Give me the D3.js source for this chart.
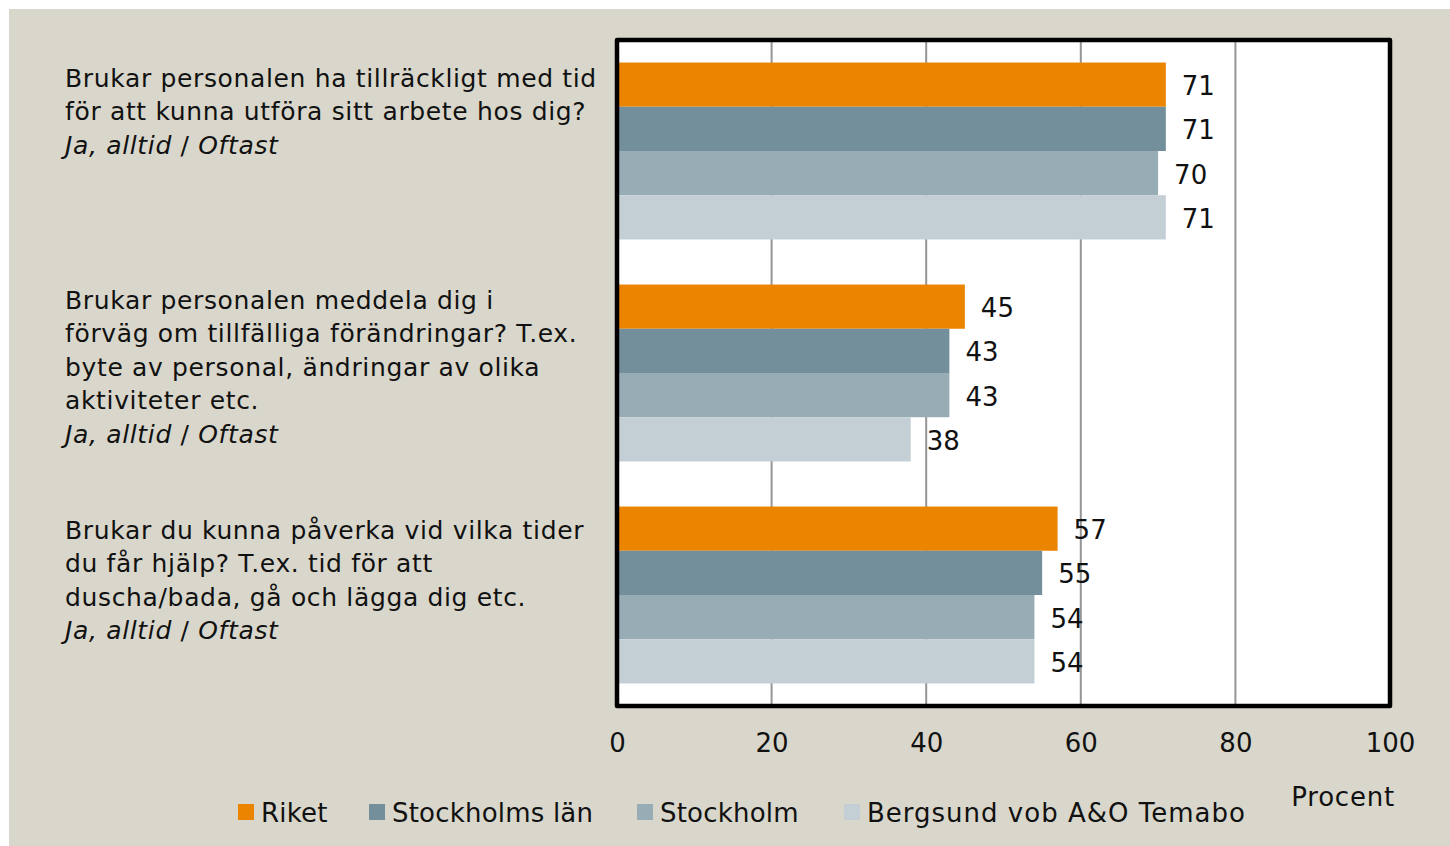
<!DOCTYPE html>
<html>
<head>
<meta charset="utf-8">
<script src="https://cdn.jsdelivr.net/npm/d3@7"></script>
<style>
  html, body { margin: 0; padding: 0; background: #fff; }
  svg text { font-family: "DejaVu Sans", sans-serif; fill: #111; }
</style>
</head>
<body>
<div id="chart"></div>
<script>
// Data
var questions = [
    ["Brukar personalen ha tillräckligt med tid", "för att kunna utföra sitt arbete hos dig?"],
    ["Brukar personalen meddela dig i", "förväg om tillfälliga förändringar? T.ex.", "byte av personal, ändringar av olika", "aktiviteter etc."],
    ["Brukar du kunna påverka vid vilka tider", "du får hjälp? T.ex. tid för att", "duscha/bada, gå och lägga dig etc."]
];
var answerNote = ["Ja, alltid", " / ", "Oftast"];
var seriesNames = ["Riket", "Stockholms län", "Stockholm", "Bergsund vob A&O Temabo"];
var riket = [71, 45, 57];
var stockholmsLan = [71, 43, 55];
var stockholm = [70, 43, 54];
var bergsund = [71, 38, 54];
var ticks = [0, 20, 40, 60, 80, 100];
var axisTitle = "Procent";

var colors = ["#eb8500", "#738f9c", "#98acb6", "#c4cfd5"];

function init() {
    var width = 1450, height = 846;
    var svg = d3.select("#chart").append("svg")
        .attr("width", width)
        .attr("height", height);

    // panel background
    svg.append("rect")
        .attr("x", 9).attr("y", 9)
        .attr("width", width - 9).attr("height", height - 9)
        .attr("fill", "#d9d7cb");

    var plot = { left: 617, right: 1390, top: 40, bottom: 706 };

    var x = d3.scaleLinear().domain([0, 100]).range([plot.left, plot.right]);
    var y = d3.scaleBand()
        .domain(d3.range(questions.length))
        .range([plot.top, plot.bottom])
        .paddingInner(0.203)
        .paddingOuter(0.1015);
    var ySub = d3.scaleBand()
        .domain(d3.range(seriesNames.length))
        .range([0, y.bandwidth()]);

    var series = [riket, stockholmsLan, stockholm, bergsund];

    // plot area
    svg.append("rect")
        .attr("x", plot.left).attr("y", plot.top)
        .attr("width", plot.right - plot.left)
        .attr("height", plot.bottom - plot.top)
        .attr("fill", "#fff");

    // gridlines (behind the bars)
    svg.append("g").selectAll("line")
        .data(ticks.slice(1, -1))
        .enter().append("line")
        .attr("x1", d => x(d)).attr("x2", d => x(d))
        .attr("y1", plot.top).attr("y2", plot.bottom)
        .attr("stroke", "#959595")
        .attr("stroke-width", 2);

    // bars + value labels
    var groups = svg.append("g").selectAll("g")
        .data(questions)
        .enter().append("g")
        .attr("transform", (d, i) => `translate(0, ${y(i)})`);

    groups.each(function(q, qi) {
        var g = d3.select(this);
        series.forEach((s, si) => {
            g.append("rect")
                .attr("x", x(0))
                .attr("y", ySub(si))
                .attr("width", x(s[qi]) - x(0))
                .attr("height", ySub.bandwidth())
                .attr("fill", colors[si]);
        });
        series.forEach((s, si) => {
            g.append("text")
                .attr("x", x(s[qi]) + 16)
                .attr("y", ySub(si) + ySub.bandwidth() / 2 + 3)
                .attr("dominant-baseline", "middle")
                .style("font-size", "26px")
                .text(s[qi]);
        });
    });

    // border
    svg.append("rect")
        .attr("x", plot.left).attr("y", plot.top)
        .attr("width", plot.right - plot.left)
        .attr("height", plot.bottom - plot.top)
        .attr("fill", "none")
        .attr("stroke", "#000")
        .attr("stroke-width", 4.5)
        .attr("stroke-linejoin", "round");

    // x axis labels
    var xAxis = d3.axisBottom(x).tickValues(ticks).tickSize(0).tickPadding(0);
    var ax = svg.append("g")
        .attr("transform", `translate(0, ${plot.bottom})`)
        .call(xAxis);
    ax.select(".domain").remove();
    ax.selectAll("text")
        .attr("y", 46)
        .attr("dy", null)
        .style("font-family", "DejaVu Sans, sans-serif")
        .style("font-size", "26px")
        .attr("fill", "#111");

    svg.append("text")
        .attr("x", 1395).attr("y", 806)
        .attr("text-anchor", "end")
        .style("font-size", "26px")
        .style("letter-spacing", "0.8px")
        .text(axisTitle);

    // question labels
    var firstLine = [15, 15, 23];
    var lineH = 33.5;
    questions.forEach((lines, qi) => {
        var t = svg.append("text")
            .attr("y", y(qi) + firstLine[qi] + 9)
            .style("font-size", "25px")
            .style("letter-spacing", "0.65px");
        lines.forEach((l, li) => {
            t.append("tspan").attr("x", 65).attr("dy", li === 0 ? 0 : lineH).text(l);
        });
        t.append("tspan").attr("x", 65).attr("dy", lineH)
            .style("font-style", "italic").text(answerNote[0]);
        t.append("tspan").text(answerNote[1]);
        t.append("tspan").style("font-style", "italic").text(answerNote[2]);
    });

    // legend
    var legendX = [238, 369, 637, 844];
    var legend = svg.append("g").selectAll("g")
        .data(seriesNames)
        .enter().append("g")
        .attr("transform", (d, i) => `translate(${legendX[i]}, 804)`);
    legend.append("rect")
        .attr("width", 16).attr("height", 16)
        .attr("fill", (d, i) => colors[i]);
    legend.append("text")
        .attr("x", 23).attr("y", 18)
        .style("font-size", "26px")
        .style("letter-spacing", (d, i) => i === 3 ? "1px" : "0.2px")
        .text(d => d);
}

window.onload = init;
</script>
</body>
</html>
